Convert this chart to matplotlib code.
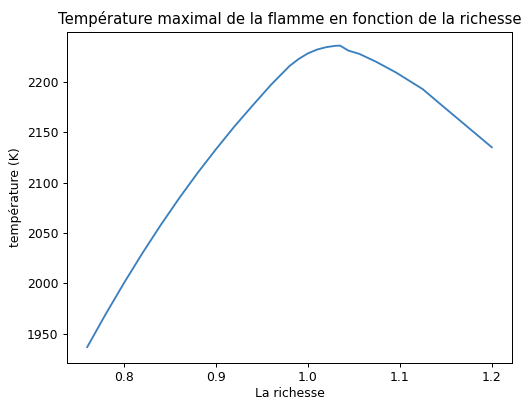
import matplotlib
matplotlib.use("Agg")
import matplotlib.pyplot as plt

richesse = [0.76, 0.78, 0.80, 0.82, 0.84, 0.86, 0.88, 0.90, 0.92, 0.94, 0.96, 0.98,
            0.99, 1.00, 1.01, 1.02, 1.03, 1.035, 1.044, 1.056, 1.074, 1.096, 1.125,
            1.147, 1.169, 1.2]
temperature = [1937, 1969.5, 2000.5, 2030, 2058, 2084.5, 2109.5, 2133, 2155.5, 2176.5,
               2197, 2215.5, 2222.5, 2228, 2231.8, 2234.2, 2235.5, 2235.7, 2230.8,
               2227.5, 2219.8, 2209, 2192.5, 2175.5, 2158.7, 2135]

dpi = 89
fig = plt.figure(figsize=(521 / dpi, 399 / dpi), dpi=dpi)
ax = fig.add_axes([67 / 521, 36.3 / 399, 445 / 521, 331 / 399])
ax.plot(richesse, temperature, color="#3a80be", linewidth=1.5)
ax.set_ylim(1921.5, 2249.5)
ax.set_title("Température maximal de la flamme en fonction de la richesse")
ax.set_xlabel("La richesse", labelpad=2.5)
ax.set_ylabel("température (K)")
fig.savefig("out.png", dpi=dpi)
